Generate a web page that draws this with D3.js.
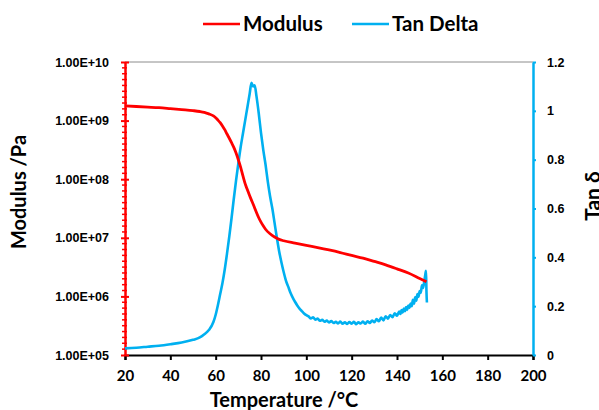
<!DOCTYPE html>
<html><head><meta charset="utf-8">
<script src="https://cdn.jsdelivr.net/npm/d3@7"></script>
<style>body{margin:0;background:#fff}svg{display:block}</style>
</head><body>
<svg id="c" width="599" height="410"></svg>
<script>
// ---- data ----
const modTemp = [20,25,30,35,40,45,50,53,55,57,59,60,61,62,63,64,65,66,67,68,69,70,71,72,73,74,75,76,77,78,79,80,81,82,84,86,88,90,95,100,105,110,115,120,125,130,135,140,145,150,153];
const modulus = [1.78e9,1.74e9,1.70e9,1.66e9,1.60e9,1.54e9,1.48e9,1.43e9,1.38e9,1.30e9,1.20e9,1.12e9,1.02e9,9.2e8,8.1e8,7.0e8,5.9e8,5.0e8,4.2e8,3.5e8,2.8e8,2.15e8,1.6e8,1.15e8,8.4e7,6.6e7,5.2e7,4.2e7,3.4e7,2.7e7,2.2e7,1.85e7,1.6e7,1.4e7,1.17e7,1.03e7,9.4e6,8.9e6,8.1e6,7.4e6,6.8e6,6.2e6,5.6e6,5.0e6,4.5e6,3.95e6,3.45e6,2.95e6,2.5e6,2.02e6,1.78e6];
const tanTemp = [20,25,30,35,40,45,50,53,55,57,59,60,61,62,63,64,65,66,67,68,69,70,71,72,73,74,75,75.8,76.5,77.2,78,79,80,81,82,83,84,85,86,87,88,89,90,91,92,93,94,95,96,97,98,99,100,
  101,102,103,104,105,106,107,108,109,110,111,112,113,114,115,116,117,118,119,120,121,122,123,124,125,126,127,128,129,130,131,132,133,134,135,136,137,138,139,140,
  140.5,141,141.5,142,142.5,143,143.5,144,144.5,145,145.5,146,146.5,147,147.5,148,148.5,149,149.5,150,150.5,151,151.5,152,152.5,152.8,153,153.2];
const tanDelta = [0.027,0.030,0.034,0.038,0.044,0.051,0.062,0.072,0.085,0.102,0.135,0.165,0.205,0.250,0.295,0.350,0.415,0.485,0.560,0.640,0.715,0.785,0.850,0.905,0.960,1.015,1.070,1.115,1.100,1.105,1.060,0.990,0.910,0.840,0.780,0.710,0.650,0.600,0.540,0.480,0.425,0.380,0.340,0.305,0.280,0.255,0.235,0.218,0.203,0.190,0.180,0.170,0.163,
  0.158,0.150,0.154,0.145,0.149,0.140,0.144,0.136,0.141,0.133,0.139,0.131,0.136,0.129,0.137,0.128,0.134,0.127,0.135,0.128,0.136,0.126,0.134,0.129,0.137,0.128,0.138,0.131,0.141,0.134,0.147,0.138,0.153,0.142,0.159,0.149,0.164,0.155,0.171,0.161,
  0.170,0.178,0.168,0.184,0.174,0.190,0.179,0.196,0.185,0.203,0.193,0.211,0.200,0.226,0.210,0.236,0.222,0.250,0.238,0.262,0.255,0.285,0.275,0.300,0.330,0.345,0.260,0.215];
const xTicks = [20,40,60,80,100,120,140,160,180,200];
const yLeftTicks = [1e5,1e6,1e7,1e8,1e9,1e10];
const yLeftLabels = ["1.00E+05","1.00E+06","1.00E+07","1.00E+08","1.00E+09","1.00E+10"];
const yRightTicks = [0,0.2,0.4,0.6,0.8,1,1.2];
const seriesNames = ["Modulus","Tan Delta"];

// ---- layout ----
const X0=125, X1=533, Y0=62, Y1=355;
const RED="#FF0000", BLUE="#00B0F0";
const svg = d3.select("#c");
const x = d3.scaleLinear().domain([20,200]).range([X0,X1]);
const yL = d3.scaleLog().domain([1e5,1e10]).range([Y1,Y0]);
const yR = d3.scaleLinear().domain([0,1.2]).range([Y1,Y0]);

// top border
svg.append("line").attr("x1",X0).attr("x2",X1).attr("y1",Y0).attr("y2",Y0).attr("stroke","#8c8c8c").attr("stroke-width",1);

// bottom axis
const gx = svg.append("g").attr("transform",`translate(0,${Y1})`)
  .call(d3.axisBottom(x).tickValues(xTicks).tickSize(5).tickPadding(10).tickFormat(d3.format("d")));
gx.select(".domain").attr("stroke","#000").attr("stroke-width",2.2);
gx.selectAll(".tick line").attr("stroke","#000").attr("stroke-width",2);
gx.selectAll("text").attr("font-family","Lato").attr("font-weight","bold").attr("font-size",15).attr("fill","#000");

// left axis minor ticks (evenly spaced in log space)
const minor=[];
for(let k=5;k<10;k++) for(let i=1;i<10;i++) minor.push(Math.pow(10,k+i/10));
svg.append("g").selectAll("line").data(minor).join("line")
  .attr("x1",X0-3).attr("x2",X0+2).attr("y1",d=>yL(d)).attr("y2",d=>yL(d))
  .attr("stroke",RED).attr("stroke-width",1.5);
const gl = svg.append("g").attr("transform",`translate(${X0},0)`)
  .call(d3.axisLeft(yL).tickValues(yLeftTicks).tickSizeInner(4).tickSizeOuter(0).tickPadding(12)
    .tickFormat((d,i)=>yLeftLabels[i]));
gl.select(".domain").attr("stroke",RED).attr("stroke-width",2.5);
gl.selectAll(".tick line").attr("x1",-4).attr("x2",4).attr("stroke",RED).attr("stroke-width",2);
gl.selectAll("text").attr("font-family","Liberation Sans").attr("font-weight","bold").attr("font-size",12.5).attr("fill","#000");

// right axis
const gr = svg.append("g").attr("transform",`translate(${X1},0)`)
  .call(d3.axisRight(yR).tickValues(yRightTicks).tickSizeInner(3).tickSizeOuter(0).tickPadding(11).tickFormat(d3.format("")));
gr.select(".domain").attr("stroke",BLUE).attr("stroke-width",2.5);
gr.selectAll(".tick line").attr("stroke",BLUE).attr("stroke-width",2);
gr.selectAll("text").attr("font-family","Liberation Sans").attr("font-weight","bold").attr("font-size",12.5).attr("fill","#000");

// series
const modData = modTemp.map((t,i)=>[t,modulus[i]]);
const tanData = tanTemp.map((t,i)=>[t,tanDelta[i]]);
svg.append("path").datum(tanData).attr("fill","none").attr("stroke",BLUE).attr("stroke-width",2.6)
  .attr("stroke-linejoin","round")
  .attr("d",d3.line().x(d=>x(d[0])).y(d=>yR(d[1])).curve(d3.curveMonotoneX));
svg.append("path").datum(modData).attr("fill","none").attr("stroke",RED).attr("stroke-width",2.8)
  .attr("stroke-linejoin","round")
  .attr("d",d3.line().x(d=>x(d[0])).y(d=>yL(d[1])).curve(d3.curveMonotoneX));

// axis titles
svg.append("text").attr("x",284).attr("y",407).attr("text-anchor","middle")
  .attr("font-family","Lato").attr("font-weight","bold").attr("font-size",20).text("Temperature /°C");
svg.append("text").attr("transform","translate(26,192) rotate(-90)").attr("text-anchor","middle")
  .attr("font-family","Lato").attr("font-weight","bold").attr("font-size",20).text("Modulus /Pa");
svg.append("text").attr("transform","translate(600,196) rotate(-90)").attr("text-anchor","middle")
  .attr("font-family","Lato").attr("font-weight","bold").attr("font-size",21).text("Tan δ");

// legend
const leg = [{name:seriesNames[0],c:RED,x:203},{name:seriesNames[1],c:BLUE,x:352}];
const lg = svg.append("g").selectAll("g").data(leg).join("g").attr("transform",d=>`translate(${d.x},24)`);
lg.append("line").attr("x1",0).attr("x2",37).attr("y1",0).attr("y2",0).attr("stroke",d=>d.c).attr("stroke-width",2.6);
lg.append("text").attr("x",40).attr("y",7).attr("font-family","Lato").attr("font-weight","bold").attr("font-size",20.5).text(d=>d.name);
</script>
</body></html>
